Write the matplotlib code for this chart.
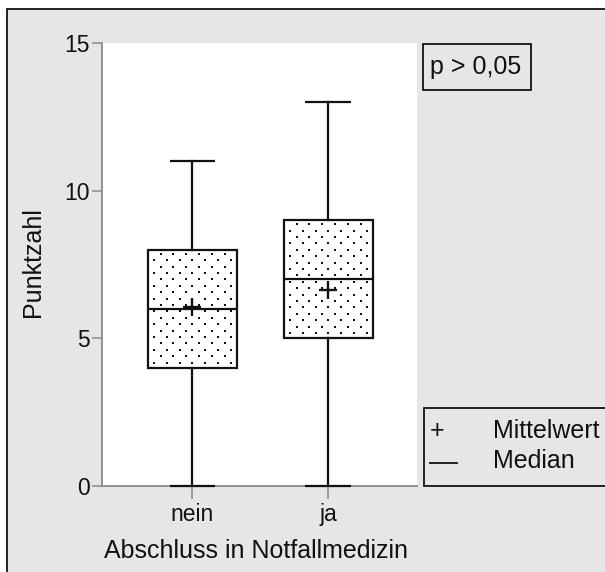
import numpy as np
import matplotlib
matplotlib.use("Agg")
import matplotlib.pyplot as plt
from matplotlib.patches import Rectangle
from matplotlib.lines import Line2D

# Punktzahl je Gruppe (Fünf-Punkte-Zusammenfassung + Mittelwert)
groups = ["nein", "ja"]
whisker_low = [0, 0]
q1 = [4, 5]
medians = [6, 7]
q3 = [8, 9]
whisker_high = [11, 13]
means = [6.05, 6.65]
y_ticks = [0, 5, 10, 15]
p_text = "p > 0,05"
legend_items = [("+", "Mittelwert"), ("\u2014", "Median")]

W, H, DPI = 605, 572, 100
BG = "#e6e6e6"
INK = "#111111"
SPINE = "#8a8a8a"
FONT = "Liberation Sans"

plt.rcParams["font.family"] = [FONT, "DejaVu Sans"]

fig = plt.figure(figsize=(W / DPI, H / DPI), dpi=DPI, facecolor="white")

# grey panel with a dark frame behind everything
panel = Rectangle((7 / W, -0.05), 1.2, 1 - 9 / H + 0.05, transform=fig.transFigure,
                  facecolor=BG, edgecolor="black", linewidth=1.2, zorder=-10)
fig.patches.append(panel)

ax_left, ax_right = 102 / W, 417 / W
ax_bottom, ax_top = 1 - 486 / H, 1 - 43 / H
ax = fig.add_axes([ax_left, ax_bottom, ax_right - ax_left, ax_top - ax_bottom])
ax.set_facecolor("white")
ax.set_zorder(1)

x = np.arange(1, len(groups) + 1)
ax.set_xlim(0.3346, 2.651)
ax.set_ylim(0, 15)

box_w = 0.654
cap_w = 0.338
lw = 1.6

# pixel -> data unit conversions for the dot texture
fig.canvas.draw()
p0 = ax.transData.transform((0, 0))
p1 = ax.transData.transform((1, 1))
px_per_x = p1[0] - p0[0]
px_per_y = p1[1] - p0[1]
dot_dx = 12.8 / px_per_x
dot_dy = 6.4 / px_per_y

for i, xi in enumerate(x):
    # whiskers and caps
    ax.plot([xi, xi], [whisker_low[i], q1[i]], color=INK, lw=lw, zorder=3)
    ax.plot([xi, xi], [q3[i], whisker_high[i]], color=INK, lw=lw, zorder=3)
    for yv in (whisker_low[i], whisker_high[i]):
        ax.plot([xi - cap_w / 2, xi + cap_w / 2], [yv, yv], color=INK, lw=lw,
                zorder=3, solid_capstyle="butt", clip_on=False)
    # box
    box = Rectangle((xi - box_w / 2, q1[i]), box_w, q3[i] - q1[i],
                    facecolor="white", edgecolor=INK, linewidth=lw, zorder=2)
    ax.add_patch(box)
    # dotted fill, staggered rows
    left, right = xi - box_w / 2, xi + box_w / 2
    ys = np.arange(q3[i] - 4.0 / px_per_y, q1[i], -dot_dy)
    dx_pts, dy_pts = [], []
    for r, yv in enumerate(ys):
        start = left + (12.5 if r % 2 == 0 else 5.9) / px_per_x
        xs = np.arange(start, right - 1.5 / px_per_x, dot_dx)
        dx_pts.extend(xs)
        dy_pts.extend([yv] * len(xs))
    sc = ax.scatter(dx_pts, dy_pts, marker="s", s=4.5, color=INK, linewidths=0,
                    zorder=2.5)
    sc.set_clip_path(box)
    # median
    ax.plot([left, right], [medians[i], medians[i]], color=INK, lw=lw, zorder=4,
            solid_capstyle="butt")
    # mean
    ax.plot([xi], [means[i]], marker="+", markersize=13, mew=1.7, color=INK,
            zorder=5)

for side in ("top", "right"):
    ax.spines[side].set_visible(False)
for side in ("left", "bottom"):
    ax.spines[side].set_color(SPINE)
    ax.spines[side].set_linewidth(1.3)

ax.set_yticks(y_ticks)
ax.set_yticklabels([str(t) for t in y_ticks])
ax.set_xticks(x)
ax.set_xticklabels(groups)
ax.tick_params(axis="y", direction="out", length=7, width=1.1, color=SPINE,
               pad=1.5, labelsize=16.5, labelcolor=INK)
ax.tick_params(axis="x", direction="out", length=9, width=1.1, color=SPINE,
               pad=3, labelsize=16.5, labelcolor=INK)

ax.set_ylabel("Punktzahl", fontsize=18, color=INK, va="center")
ax.yaxis.set_label_coords(-0.219, 0.506)
ax.set_xlabel("Abschluss in Notfallmedizin", fontsize=18, color=INK, va="center")
ax.xaxis.set_label_coords(0.49, -0.147)

# p-value box
fig.patches.append(Rectangle((423 / W, 1 - 90 / H), 108 / W, 46 / H,
                             transform=fig.transFigure, facecolor=BG,
                             edgecolor="black", linewidth=1.2, zorder=1))
fig.text(476 / W, 1 - 67 / H, p_text, fontsize=18, color=INK, ha="center",
         va="center", zorder=5)

# legend box
fig.patches.append(Rectangle((424 / W, 1 - 486 / H), 200 / W, 78 / H,
                             transform=fig.transFigure, facecolor=BG,
                             edgecolor="black", linewidth=1.2, zorder=1))
sym_y = [431, 461]
for (sym, label), yy in zip(legend_items, sym_y):
    if sym == "+":
        fig.text(437 / W, 1 - yy / H, sym, fontsize=18, color=INK, ha="center",
                 va="center", zorder=5)
    else:
        fig.lines.append(Line2D([430 / W, 457 / W], [1 - (yy + 2) / H] * 2,
                                transform=fig.transFigure, color=INK, lw=1.3,
                                zorder=5))
    fig.text(493 / W, 1 - yy / H, label, fontsize=18, color=INK, ha="left",
             va="center", zorder=5)

fig.savefig("out.png", dpi=DPI, facecolor=fig.get_facecolor())
